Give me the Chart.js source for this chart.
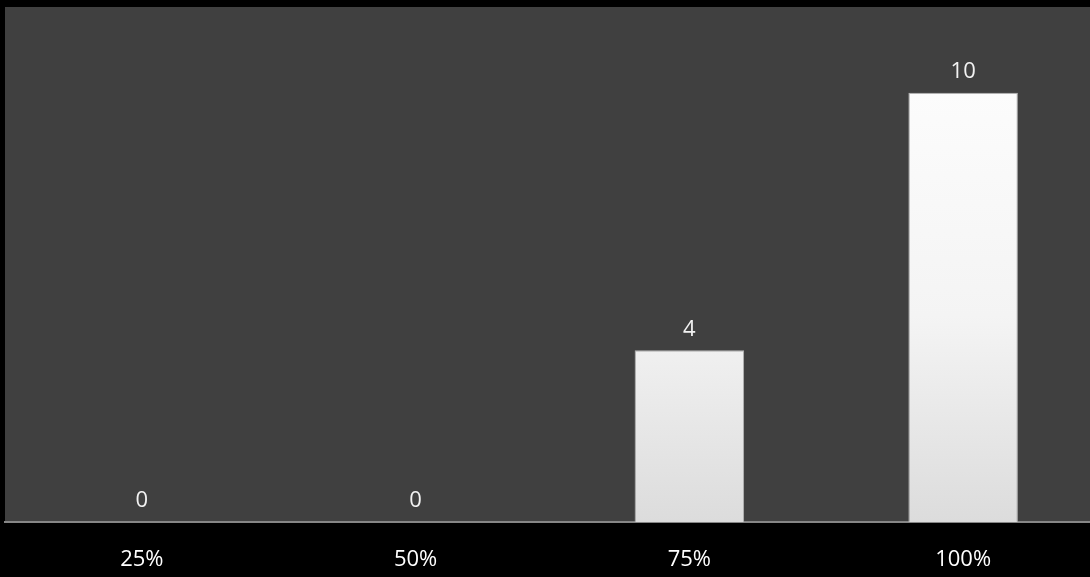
<!DOCTYPE html>
<html>
<head>
<meta charset="utf-8">
<script src="https://cdn.jsdelivr.net/npm/chart.js@4.4.1/dist/chart.umd.min.js"></script>
<style>
  html, body { margin: 0; padding: 0; background: #000; overflow: hidden; }
  #wrap { position: relative; width: 1100px; height: 577px; }
</style>
</head>
<body>
<div id="wrap"><canvas id="barChart" width="1100" height="577"></canvas></div>
<script>
const categories = ['25%', '50%', '75%', '100%'];
const counts = [0, 0, 4, 10];
const yMax = 12;

// plot area background (dark gray box behind the bars)
const plotBackground = {
    id: 'plotBackground',
    beforeDraw(chart) {
        const { ctx, chartArea } = chart;
        ctx.save();
        ctx.fillStyle = '#404040';
        ctx.fillRect(chartArea.left, chartArea.top, chartArea.right - chartArea.left, chartArea.bottom - chartArea.top);
        ctx.restore();
    }
};

// value labels above each bar
const valueLabels = {
    id: 'valueLabels',
    afterDatasetsDraw(chart) {
        const { ctx } = chart;
        const meta = chart.getDatasetMeta(0);
        ctx.save();
        ctx.fillStyle = '#f2f2f2';
        ctx.font = '22px "Open Sans", sans-serif';
        ctx.textAlign = 'center';
        ctx.textBaseline = 'middle';
        meta.data.forEach((bar, i) => {
            ctx.fillText(String(counts[i]), bar.x, bar.y - 21);
        });
        ctx.restore();
    }
};

function barGradient(context) {
    const chart = context.chart;
    const { ctx, chartArea } = chart;
    if (!chartArea) return '#eeeeee';
    const g = ctx.createLinearGradient(0, chartArea.top, 0, chartArea.bottom);
    g.addColorStop(0, '#ffffff');
    g.addColorStop(0.6, '#f4f4f4');
    g.addColorStop(1, '#dcdcdc');
    return g;
}

new Chart(document.getElementById('barChart').getContext('2d'), {
    type: 'bar',
    data: {
        labels: categories,
        datasets: [{
            data: counts,
            backgroundColor: barGradient,
            borderColor: '#b5b5b5',
            borderWidth: 1,
            categoryPercentage: 1,
            barPercentage: 0.4
        }]
    },
    options: {
        responsive: false,
        animation: false,
        layout: { padding: { left: 5, top: 7, right: 0, bottom: 7 } },
        plugins: { legend: { display: false }, tooltip: { enabled: false } },
        scales: {
            x: {
                grid: { display: false },
                border: { display: true, color: '#868686', width: 2 },
                ticks: { color: '#ffffff', font: { family: 'Open Sans', size: 22 }, padding: 17 },
                afterFit(scale) { scale.height = 48; }
            },
            y: {
                display: false,
                min: 0,
                max: yMax
            }
        }
    },
    plugins: [plotBackground, valueLabels]
});
</script>
</body>
</html>
